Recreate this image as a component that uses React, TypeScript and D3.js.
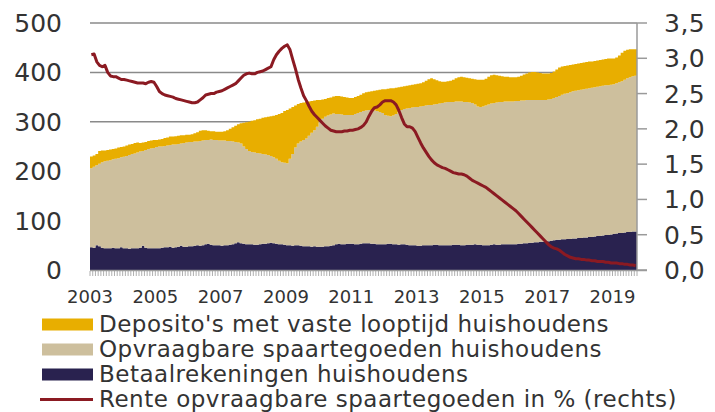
import * as d3 from 'd3';

// monthly values, Jan 2003 - Sep 2019 (mld euro)
const betaal: number[] = [
  46, 45, 50, 48, 45, 44, 44, 44, 45, 44, 44, 46,
  44, 44, 43, 44, 44, 44, 45, 49, 45, 44, 44, 44,
  44, 44, 45, 46, 46, 47, 45, 46, 47, 49, 47, 47,
  48, 48, 49, 50, 49, 50, 52, 53, 51, 50, 50, 50,
  49, 50, 50, 51, 52, 54, 56, 54, 53, 52, 52, 52,
  51, 51, 52, 53, 53, 54, 55, 54, 53, 52, 52, 51,
  50, 50, 49, 50, 50, 49, 48, 48, 48, 47, 48, 47,
  47, 47, 48, 48, 49, 50, 52, 53, 52, 52, 53, 53,
  53, 52, 52, 53, 54, 54, 54, 53, 53, 52, 52, 52,
  52, 53, 53, 52, 52, 51, 52, 52, 51, 50, 50, 50,
  49, 49, 50, 50, 50, 50, 51, 51, 50, 50, 50, 50,
  50, 51, 51, 51, 50, 50, 51, 51, 51, 52, 51, 51,
  50, 50, 50, 51, 52, 51, 51, 52, 52, 52, 52, 52,
  52, 53, 53, 54, 54, 55, 55, 56, 56, 57, 57, 58,
  58, 59, 60, 61, 61, 62, 62, 63, 63, 64, 64, 65,
  65, 66, 66, 67, 67, 68, 69, 69, 70, 71, 71, 72,
  73, 74, 75, 75, 76, 77, 77, 78, 78,
];

const opvraagbaar: number[] = [
  160, 164, 162, 167, 173, 176, 177, 178, 179, 181, 182, 182,
  185, 187, 190, 191, 192, 194, 195, 192, 198, 201, 202, 203,
  205, 206, 205, 205, 206, 206, 209, 208, 208, 207, 210, 211,
  211, 211, 211, 210, 212, 212, 211, 210, 213, 213, 213, 212,
  213, 212, 211, 210, 208, 205, 202, 202, 197, 193, 189, 187,
  187, 186, 184, 182, 181, 179, 176, 174, 172, 169, 166, 166,
  166, 175, 186, 198, 206, 211, 215, 218, 224, 231, 235, 243,
  253, 259, 262, 265, 266, 267, 264, 263, 263, 262, 261, 261,
  261, 264, 266, 267, 268, 269, 270, 271, 270, 270, 268, 266,
  262, 259, 258, 261, 264, 269, 272, 274, 276, 278, 279, 280,
  281, 282, 282, 283, 284, 284, 284, 285, 287, 288, 289, 290,
  290, 289, 290, 290, 291, 290, 289, 288, 287, 283, 280, 279,
  281, 283, 285, 286, 286, 288, 289, 288, 289, 289, 289, 289,
  290, 289, 290, 289, 290, 289, 289, 288, 288, 287, 287, 286,
  287, 287, 288, 289, 291, 293, 295, 295, 297, 298, 299, 299,
  300, 300, 301, 301, 302, 302, 302, 303, 303, 303, 303, 303,
  303, 304, 305, 307, 309, 311, 313, 314, 315,
];

const deposito: number[] = [
  24, 23, 23, 26, 24, 22, 22, 22, 21, 21, 22, 21,
  21, 21, 21, 20, 21, 20, 17, 17, 16, 16, 16, 16,
  14, 14, 15, 16, 16, 17, 16, 17, 17, 17, 16, 16,
  15, 16, 17, 19, 21, 21, 20, 19, 17, 18, 17, 18,
  18, 19, 22, 25, 29, 33, 37, 41, 48, 54, 59, 63,
  65, 68, 70, 73, 75, 77, 80, 84, 89, 95, 100, 105,
  108, 102, 95, 85, 80, 78, 76, 74, 69, 64, 60, 54,
  44, 39, 36, 35, 34, 34, 36, 36, 36, 36, 35, 34,
  34, 34, 34, 35, 36, 37, 37, 38, 40, 42, 45, 48,
  52, 55, 57, 55, 53, 50, 47, 46, 46, 46, 46, 46,
  47, 47, 48, 50, 52, 54, 51, 48, 45, 43, 42, 42,
  43, 45, 47, 49, 50, 50, 49, 49, 49, 51, 54, 55,
  54, 54, 56, 57, 57, 55, 53, 52, 50, 50, 49, 49,
  48, 49, 50, 53, 54, 56, 57, 57, 56, 55, 54, 54,
  53, 53, 54, 56, 58, 57, 56, 56, 55, 54, 54, 54,
  54, 54, 54, 54, 53, 53, 53, 53, 53, 53, 54, 53,
  52, 52, 54, 58, 59, 58, 57, 55, 54,
];

// rente opvraagbare spaartegoeden, % (rechts)
const rente: number[] = [
  3.05, 3.06, 2.95, 2.9, 2.88, 2.9, 2.8, 2.75, 2.74, 2.74, 2.72, 2.7,
  2.7, 2.69, 2.68, 2.67, 2.66, 2.65, 2.65, 2.65, 2.64, 2.66, 2.67, 2.66,
  2.6, 2.53, 2.5, 2.48, 2.47, 2.46, 2.45, 2.43, 2.42, 2.41, 2.4, 2.39,
  2.38, 2.37, 2.37, 2.38, 2.41, 2.44, 2.48, 2.49, 2.5, 2.5, 2.52, 2.53,
  2.54, 2.56, 2.58, 2.6, 2.62, 2.64, 2.68, 2.72, 2.76, 2.78, 2.79, 2.78,
  2.78, 2.8, 2.81, 2.82, 2.84, 2.86, 2.88, 2.98, 3.05, 3.1, 3.14, 3.17,
  3.19, 3.12, 2.98, 2.85, 2.7, 2.58, 2.47, 2.4, 2.32, 2.25, 2.2, 2.16,
  2.12, 2.08, 2.04, 2.01, 1.98, 1.97, 1.96, 1.96, 1.96, 1.97, 1.97, 1.98,
  1.98, 1.99, 2.0, 2.02, 2.05, 2.1, 2.18, 2.25, 2.3, 2.31, 2.34, 2.38,
  2.4, 2.4, 2.4, 2.38, 2.34, 2.26, 2.16, 2.07, 2.03, 2.03, 2.01, 1.96,
  1.88, 1.8, 1.73, 1.67, 1.61, 1.56, 1.52, 1.49, 1.47, 1.45, 1.44, 1.42,
  1.4, 1.38, 1.37, 1.36, 1.36, 1.35, 1.33, 1.3, 1.27, 1.25, 1.23, 1.21,
  1.19, 1.17, 1.14, 1.11, 1.08, 1.05, 1.02, 0.99, 0.96, 0.93, 0.9, 0.87,
  0.84, 0.8, 0.76, 0.72, 0.68, 0.64, 0.6, 0.56, 0.52, 0.48, 0.44, 0.4,
  0.36, 0.33, 0.31, 0.3, 0.28, 0.25, 0.22, 0.2, 0.18, 0.17, 0.16, 0.16,
  0.15, 0.15, 0.14, 0.14, 0.13, 0.13, 0.12, 0.12, 0.12, 0.11, 0.11, 0.1,
  0.1, 0.1, 0.09, 0.09, 0.08, 0.08, 0.07, 0.07, 0.06,
];

const yearLabels = [2003, 2005, 2007, 2009, 2011, 2013, 2015, 2017, 2019];
const leftTicks = [0, 100, 200, 300, 400, 500];
const rightTicks = [0, 0.5, 1, 1.5, 2, 2.5, 3, 3.5];

const legendItems = [
  { label: "Deposito's met vaste looptijd huishoudens", color: '#e8ae00', type: 'box' },
  { label: 'Opvraagbare spaartegoeden huishoudens', color: '#cdbf9d', type: 'box' },
  { label: 'Betaalrekeningen huishoudens', color: '#29224f', type: 'box' },
  { label: 'Rente opvraagbare spaartegoeden in % (rechts)', color: '#8b1a22', type: 'line' },
];

const keys = ['betaal', 'opvraagbaar', 'deposito'];
const colors: Record<string, string> = {
  betaal: '#29224f',
  opvraagbaar: '#cdbf9d',
  deposito: '#e8ae00',
};

const FONT = 'DejaVu Sans, Verdana, sans-serif';

export default function App() {
  const n = betaal.length;
  const left = 90;
  const right = 637;
  const top = 23;
  const bottom = 270;

  const x = d3.scaleLinear().domain([0, n]).range([left, right]);
  const y = d3.scaleLinear().domain([0, 500]).range([bottom, top]);
  const yR = d3.scaleLinear().domain([0, 3.5]).range([bottom, top]);

  // extra trailing row so the last month gets its full step width
  const table = d3.range(n + 1).map((i) => {
    const j = Math.min(i, n - 1);
    return { i, betaal: betaal[j], opvraagbaar: opvraagbaar[j], deposito: deposito[j] };
  });
  const series = d3.stack<any>().keys(keys)(table);

  const area = d3
    .area<any>()
    .x((d) => x(d.data.i))
    .y0((d) => y(d[0]))
    .y1((d) => y(d[1]))
    .curve(d3.curveStepAfter);

  const line = d3
    .line<number>()
    .x((_, i) => x(i + 0.5))
    .y((d) => yR(d));

  return (
    <svg width={715} height={412} style={{ position: 'absolute', left: 0, top: 0 }}>
      <rect width={715} height={412} fill="white" />
      {leftTicks.map((t) => (
        <line key={t} x1={left} x2={right} y1={y(t)} y2={y(t)} stroke="#8a8a8a" strokeWidth={1.5} />
      ))}
      {series.map((s) => (
        <path key={s.key} d={area(s) ?? ''} fill={colors[s.key]} />
      ))}
      <line x1={left} x2={647} y1={bottom + 0.5} y2={bottom + 0.5} stroke="#9a9a9a" strokeWidth={1.5} />
      {d3.range(n + 1).map((i) => (
        <line key={i} x1={x(i)} x2={x(i)} y1={bottom + 1} y2={bottom + 6} stroke="#9a9a9a" strokeWidth={0.8} />
      ))}
      <line x1={right} x2={right} y1={top} y2={bottom} stroke="#9a9a9a" strokeWidth={1.5} />
      {rightTicks.map((t) => (
        <line key={t} x1={right} x2={647} y1={yR(t)} y2={yR(t)} stroke="#9a9a9a" strokeWidth={1.5} />
      ))}
      <path d={line(rente) ?? ''} fill="none" stroke="#8b1a22" strokeWidth={3} strokeLinejoin="round" />
      {leftTicks.map((t) => (
        <text key={t} x={62} y={y(t)} dy="0.36em" textAnchor="end" fontFamily={FONT} fontSize={25} fill="#333">
          {t}
        </text>
      ))}
      {rightTicks.map((t) => (
        <text key={t} x={664} y={yR(t)} dy="0.36em" fontFamily={FONT} fontSize={25} letterSpacing={0.5} fill="#333">
          {d3.format('.1f')(t).replace('.', ',')}
        </text>
      ))}
      {yearLabels.map((yr) => (
        <text key={yr} x={x((yr - 2003) * 12)} y={303} textAnchor="middle" fontFamily={FONT} fontSize={18} fill="#333">
          {yr}
        </text>
      ))}
      {legendItems.map((item, k) => {
        const cy = 324.5 + k * 25;
        return (
          <g key={item.label}>
            {item.type === 'box' ? (
              <rect x={42} y={cy - 6} width={51} height={12} fill={item.color} />
            ) : (
              <line x1={40} x2={93} y1={cy} y2={cy} stroke={item.color} strokeWidth={3} />
            )}
            <text x={99} y={332 + k * 25} fontFamily={FONT} fontSize={23} letterSpacing={0.5} fill="#333">
              {item.label}
            </text>
          </g>
        );
      })}
    </svg>
  );
}
